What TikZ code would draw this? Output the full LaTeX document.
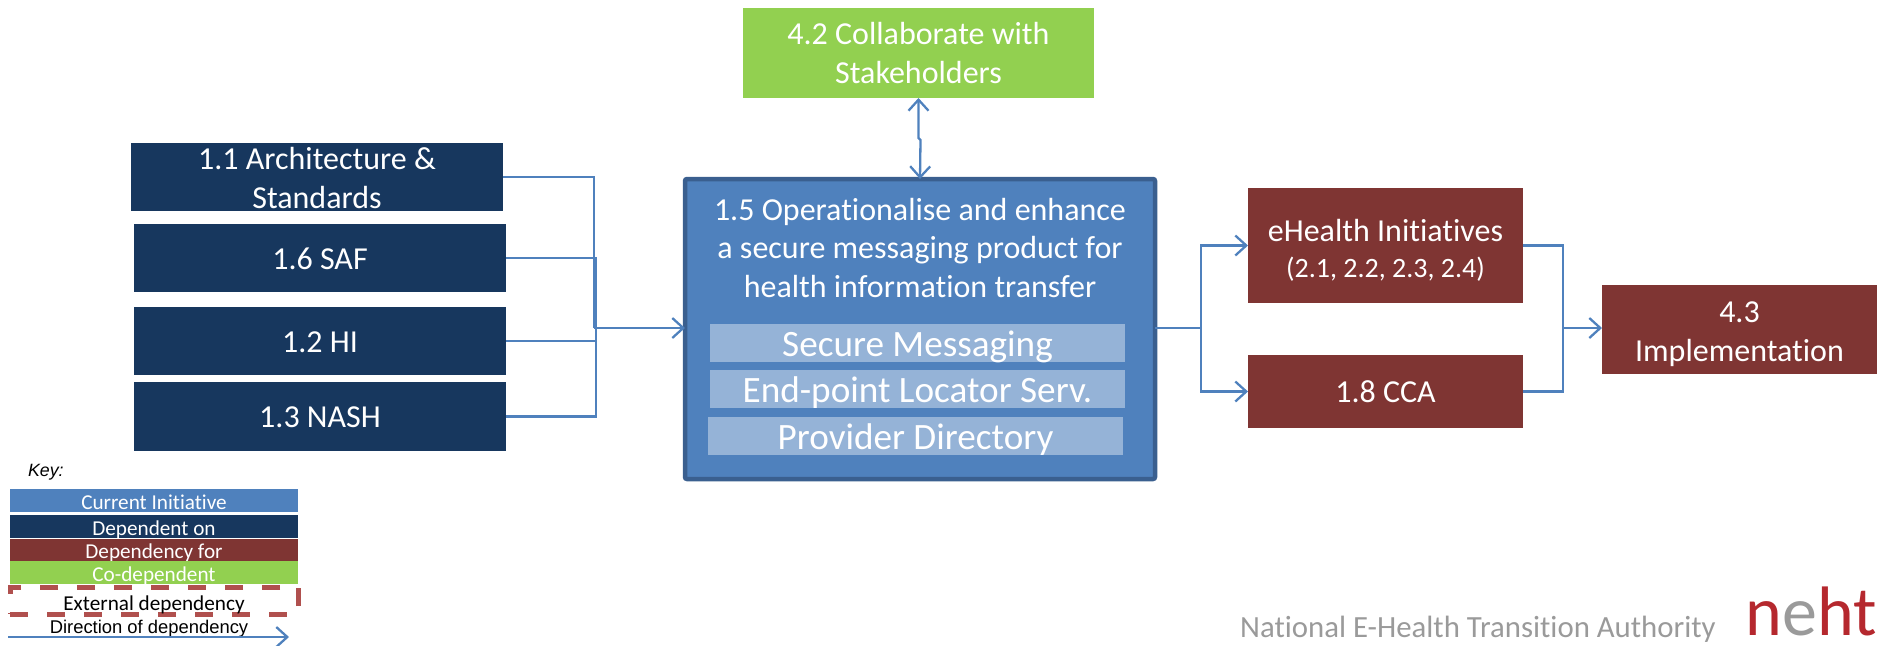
\documentclass[tikz,border=0pt]{standalone}
\usepackage{fontspec}
\setmainfont[Ligatures=NoCommon]{Carlito}
\newfontfamily\arialfont{Liberation Sans}
\usetikzlibrary{positioning,arrows.meta}
\definecolor{currentblue}{HTML}{4F81BD}
\definecolor{currentedge}{HTML}{3A5F8F}
\definecolor{lightblue}{HTML}{95B3D7}
\definecolor{navy}{HTML}{17375E}
\definecolor{darkred}{HTML}{7F3533}
\definecolor{leafgreen}{HTML}{92D050}
\definecolor{dashred}{HTML}{B0504E}
\definecolor{logored}{HTML}{B5282E}
\definecolor{logogrey}{HTML}{9A9A9A}
\begin{document}
\begin{tikzpicture}
            [x=0.5pt, y=-0.5pt, font=\fontsize{16}{19.2}\selectfont, text=white,
            box/.style={inner sep=0pt, outer sep=0pt, align=center, anchor=north west},
            dependon/.style={box, fill=navy},
            dependfor/.style={box, fill=darkred},
            codepend/.style={box, fill=leafgreen},
            oneline/.style={text height=11pt, text depth=0pt},
            layerbox/.style={box, fill=lightblue, minimum width=207.5pt, minimum height=19pt, text height=13.5pt, text depth=0pt, font=\fontsize{18.6}{20}\selectfont},
            keybar/.style={box, minimum width=144pt, text height=8.5pt, text depth=0pt, font=\fontsize{10.6}{11}\selectfont},
            link/.style={draw=currentblue, line width=1.15pt},
            arrowlink/.style={link, -{Straight Barb[length=5.5pt, width=10pt, line width=1.15pt]}}]
            \useasboundingbox (0,0) rectangle (1881,645);
            % blocks on the left
            \node [dependon, minimum width=186pt, minimum height=34pt] (arch) at (131,143) {\rule{0pt}{12pt}1.1 Architecture \&\\Standards};
            \node [dependon, oneline, minimum width=186pt, minimum height=34pt] (saf) at (134,224) {1.6 SAF};
            \node [dependon, oneline, minimum width=186pt, minimum height=34pt] (hi) at (134,307) {1.2 HI};
            \node [dependon, oneline, minimum width=186pt, minimum height=34.5pt] (nash) at (134,382) {1.3 NASH};
            % current initiative
            \node [box, fill=currentblue, draw=currentedge, line width=2.25pt, rounded corners=1pt, minimum width=235pt, minimum height=150pt] (current) at (685,179) {};
            \node [above=0pt of current.north, yshift=-62.7pt, align=center] (currenttext) {1.5 Operationalise and enhance\\a secure messaging product for\\health information transfer};
            \node [layerbox] (secure) at (710,324) {Secure Messaging};
            \node [layerbox] (locator) at (710,370) {End-point Locator Serv.};
            \node [layerbox] (directory) at (708,417) {Provider Directory};
            % co-dependent block
            \node [codepend, minimum width=175.5pt, minimum height=45pt] (collab) at (743,8) {4.2 Collaborate with\\Stakeholders};
            % blocks on the right
            \node [dependfor, minimum width=137.5pt, minimum height=57.5pt] (ehealth) at (1248,188) {\rule{0pt}{16pt}eHealth Initiatives\\[-1.2pt]{\fontsize{14}{14}\selectfont (2.1, 2.2, 2.3, 2.4)}};
            \node [dependfor, oneline, minimum width=137.5pt, minimum height=36.5pt] (cca) at (1248,355) {1.8 CCA};
            \node [dependfor, minimum width=137.5pt, minimum height=44.5pt] (impl) at (1602,285) {\rule{0pt}{15pt}4.3\\Implementation};
            % connectors
            \coordinate (jointop) at (594,328);
            \coordinate (joinin) at (596,328);
            \coordinate (joinout) at (1201,328);
            \coordinate (joinright) at (1563,328);
            \draw [link] (arch.east) -| (jointop);
            \draw [link] (saf.east) -| (joinin);
            \draw [link] (hi.east) -| (joinin);
            \draw [link] (nash.east) -| (joinin);
            \draw [arrowlink] (jointop) -- (jointop -| current.west);
            \draw [link] (joinout -| current.east) -- (joinout);
            \draw [arrowlink] (joinout) |- (ehealth.west);
            \draw [arrowlink] (joinout) |- (cca.west);
            \draw [link] (ehealth.east) -| (joinright);
            \draw [link] (cca.east) -| (joinright);
            \draw [arrowlink] (joinright) -- (joinright -| impl.west);
            \draw [link, {Straight Barb[length=5.5pt, width=10pt, line width=1.15pt]}-{Straight Barb[length=5.5pt, width=10pt, line width=1.15pt]}] (collab.south) -- ++(0,40) -- ++(2,2) -- (current.north);
            % key
            \node [box, text=black, font=\arialfont\itshape\fontsize{8.9}{10}\selectfont] (keytitle) at (28,464) {Key:};
            \node [keybar, fill=currentblue, minimum height=11.5pt] (keycurrent) at (10,489) {Current Initiative};
            \node [keybar, fill=navy, minimum height=11.5pt] (keyon) at (10,515) {Dependent on};
            \node [keybar, fill=darkred, minimum height=11pt] (keyfor) at (10,539) {Dependency for};
            \node [keybar, fill=leafgreen, minimum height=11.5pt] (keyco) at (10,561) {Co-dependent};
            \node [keybar, text=black, draw=dashred, line width=2.5pt, dash pattern=on 9pt off 9.5pt, text height=9.9pt, minimum width=144pt, minimum height=13.5pt] (keyext) at (10,587) {External dependency};
            \node [box, text=black, anchor=center, font=\arialfont\fontsize{9.2}{10}\selectfont] (keydir) at (149,629) {Direction of dependency};
            \coordinate (keystart) at (8,637);
            \coordinate (keyend) at (289,637);
            \draw [arrowlink] (keystart) -- (keyend);
            % footer
            \node [box, anchor=center, text=logogrey, font=\fontsize{15.4}{18}\selectfont] (authority) at (1478,629) {National E-Health Transition Authority};
            \node [box, anchor=base, text=logored, font=\fontsize{35}{36}\selectfont] (logo) at (1811,635) {n\textcolor{logogrey}{e}ht};
            \end{tikzpicture}
\end{document}
